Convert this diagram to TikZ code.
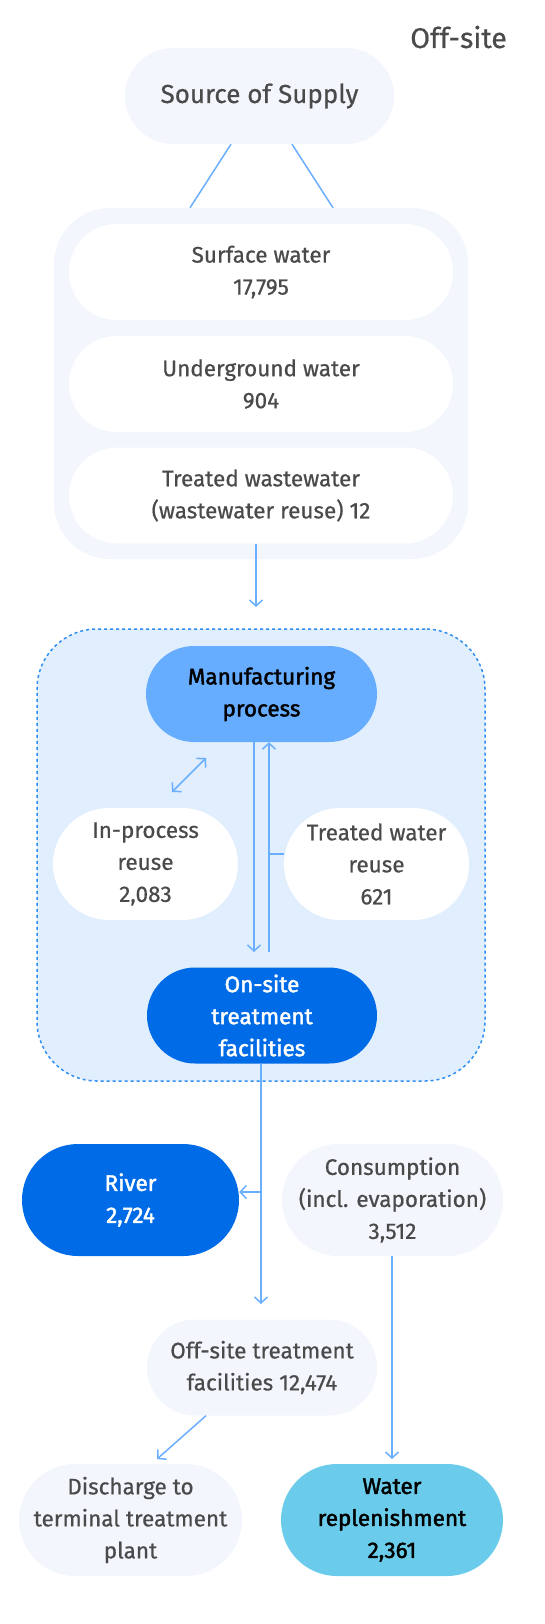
\documentclass[tikz,border=0pt]{standalone}
\usepackage{fontspec}
\setmainfont{Fira Sans}[UprightFeatures={FakeBold=0.6},BoldFont={Fira Sans},BoldFeatures={FakeBold=1.8}]
\usetikzlibrary{positioning,arrows.meta}
\definecolor{txtgray}{HTML}{4A4A4A}
\definecolor{paleblue}{HTML}{F3F6FD}
\definecolor{zoneblue}{HTML}{E1EEFD}
\definecolor{dashblue}{HTML}{2F8EF2}
\definecolor{flowblue}{HTML}{6AAEFF}
\definecolor{midblue}{HTML}{66ADFF}
\definecolor{deepblue}{HTML}{006BE6}
\definecolor{skyblue}{HTML}{6ACBEA}

\begin{document}
\begin{tikzpicture}[x=1pt,y=-1pt,
    font=\fontsize{22.5}{32}\selectfont,
    every node/.style={align=center,text=txtgray,inner sep=0pt},
    pill/.style={shape=rectangle,rounded corners=48pt,minimum height=96pt},
    fatpill/.style={shape=rectangle,rounded corners=56pt,minimum height=112pt},
    strong/.style={font=\fontsize{22.5}{32}\selectfont\bfseries},
    flow/.style={draw=flowblue,line width=1.5pt},
    flowarr/.style={flow,-{Straight Barb[length=6pt,width=13pt]}}]
    \useasboundingbox (0,0) rectangle (544,1624);
    %%%%% OFF-SITE SUPPLY
    \node[anchor=base east,font=\fontsize{28.5}{32}\selectfont] (offlabel) at (507,48) {Off-site};
    \node[pill,fill=paleblue,minimum width=269pt,font=\fontsize{26}{30}\selectfont] (source) at (259.5,96) {Source of Supply};
    \node[fill=paleblue,rounded corners=56pt,minimum width=414pt,minimum height=351pt] (supply) at (261,383.5) {};
    \begin{scope}[every node/.append style={pill,fill=white,minimum width=384pt}]
      \node (surface) at (261,272) {Surface water\\17,795};
      \node (ground) at (261,384) {Underground water\\904};
      \node (wastewater) at (261,495.5) {Treated wastewater\\(wastewater reuse) 12};
    \end{scope}
    \draw[flow] ([xshift=-28.5pt]source.south) -- ([xshift=-71pt]supply.north);
    \draw[flow] ([xshift=32.5pt]source.south) -- ([xshift=72pt]supply.north);
    \coordinate (intake) at (256,607);
    \draw[flowarr] (wastewater.south -| intake) -- (intake);
    %%%%% ON-SITE ZONE
    \node[draw=dashblue,fill=zoneblue,line width=1.5pt,dash pattern=on 3pt off 3pt,
        rounded corners=60pt,minimum width=448pt,minimum height=452pt] (zone) at (261,855) {};
    \node[pill,fill=midblue,minimum width=231pt,strong,text=black] (manuf) at (261.5,694) {Manufacturing\\process};
    \node[fatpill,fill=white,minimum width=185pt] (inproc) at (145.5,864) {In-process\\reuse\\2,083};
    \node[fatpill,fill=white,minimum width=185pt] (reuse) at (376.5,864) {Treated water\\reuse\\621};
    \node[pill,fill=deepblue,minimum width=230pt,strong,text=white] (onsite) at (262,1015.5) {On-site\\treatment\\facilities};
    % links inside the zone
    \coordinate (down) at (254,952);
    \coordinate (back) at (269,952);
    \draw[flowarr] (manuf.south -| down) -- (down);
    \draw[flowarr] (back) -- (manuf.south -| back);
    \draw[flow] ([yshift=10pt]reuse.west) -- ([yshift=10pt]reuse.west -| back);
    \coordinate (loopa) at (172,792);
    \coordinate (loopb) at (206,758);
    \draw[flow,{Straight Barb[length=6pt,width=13pt]}-{Straight Barb[length=6pt,width=13pt]}] (loopa) -- (loopb);
    %%%%% DISCHARGE
    \node[fatpill,fill=deepblue,minimum width=217pt,strong,text=white] (river) at (130.5,1200) {River\\2,724};
    \node[fatpill,fill=paleblue,minimum width=221pt] (consume) at (392.5,1200) {Consumption\\(incl. evaporation)\\3,512};
    \node[pill,fill=paleblue,minimum width=230pt] (offsite) at (262,1367.5) {Off-site treatment\\facilities 12,474};
    \node[fatpill,fill=paleblue,minimum width=223pt] (terminal) at (130.5,1520) {Discharge to\\terminal treatment\\plant};
    \node[fatpill,fill=skyblue,minimum width=222pt,strong,text=black] (replenish) at (392,1520) {Water\\replenishment\\2,361};
    % links to the outlets
    \coordinate (drop) at (261,1304);
    \coordinate (split) at (261,1192);
    \draw[flowarr] (onsite.south -| drop) -- (drop);
    \draw[flowarr] (split) -- (river.east |- split);
    \coordinate (tipa) at (157,1459);
    \coordinate (tipb) at (392,1459);
    \draw[flowarr] ([xshift=-56pt]offsite.south) -- (tipa);
    \draw[flowarr] (consume.south -| tipb) -- (tipb);
\end{tikzpicture}
\end{document}
